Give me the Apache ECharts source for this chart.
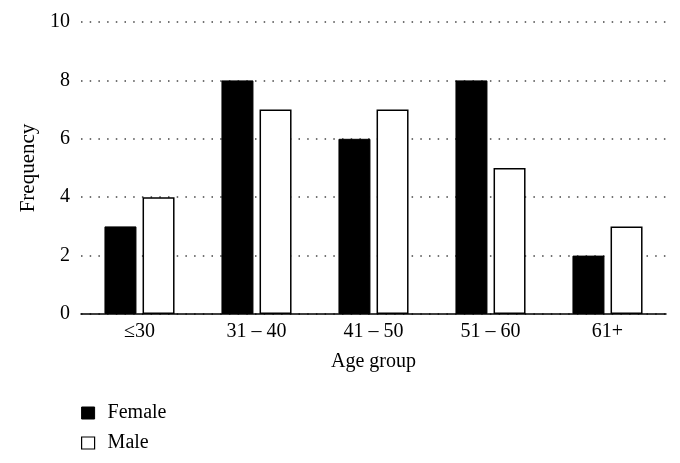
<!DOCTYPE html>
<html><head><meta charset="utf-8">
<script src="https://cdn.jsdelivr.net/npm/echarts@6/dist/echarts.min.js"></script>
<style>html,body{margin:0;padding:0;background:#fff}#c{width:680px;height:463px}</style>
</head><body><div id="c"></div>
<script>
const categories = ['≤30', '31 – 40', '41 – 50', '51 – 60', '61+'];
const female = [3, 8, 6, 8, 2];
const male = [4, 7, 7, 5, 3];
const yTicks = [0, 2, 4, 6, 8, 10];

const font = "'Liberation Serif', 'DejaVu Serif', serif";
const fs = 20;
const chart = echarts.init(document.getElementById('c'));
chart.setOption({
  animation: false,
  textStyle: {fontFamily: font},
  grid: {left: 81, right: 14, top: 22, height: 292, containLabel: false},
  legend: {
    orient: 'vertical', left: 76, top: 398, itemWidth: 13, itemHeight: 12, itemGap: 10,
    textStyle: {fontFamily: font, fontSize: fs, color: '#000', padding: [0, 0, 0, 8]},
    data: [
      {name: 'Female', icon: 'rect', itemStyle: {color: '#000', borderColor: '#000', borderWidth: 1}},
      {name: 'Male', icon: 'rect', itemStyle: {color: '#fff', borderColor: '#000', borderWidth: 1.2}}
    ]
  },
  xAxis: {
    type: 'category', data: categories,
    name: 'Age group', nameLocation: 'middle', nameGap: 38,
    nameTextStyle: {fontFamily: font, fontSize: fs, color: '#000'},
    axisLine: {lineStyle: {color: '#000', width: 1.5}},
    axisTick: {show: false},
    axisLabel: {fontFamily: font, fontSize: fs, color: '#000', margin: 8}
  },
  yAxis: {
    type: 'value', min: yTicks[0], max: yTicks[yTicks.length - 1], interval: 2,
    name: 'Frequency', nameLocation: 'middle', nameGap: 42,
    nameTextStyle: {fontFamily: font, fontSize: 21, color: '#000'},
    axisLine: {show: false}, axisTick: {show: false},
    axisLabel: {fontFamily: font, fontSize: fs, color: '#000', margin: 11},
    splitLine: {lineStyle: {color: '#444', width: 1.5, type: [1.5, 7.2]}}
  },
  series: [
    {name: 'Female', type: 'bar', data: female, barWidth: 32, barGap: '19%',
     itemStyle: {color: '#000', borderColor: '#000', borderWidth: 1}},
    {name: 'Male', type: 'bar', data: male, barWidth: 32,
     itemStyle: {color: '#fff', borderColor: '#000', borderWidth: 1.5}}
  ]
});
</script></body></html>
